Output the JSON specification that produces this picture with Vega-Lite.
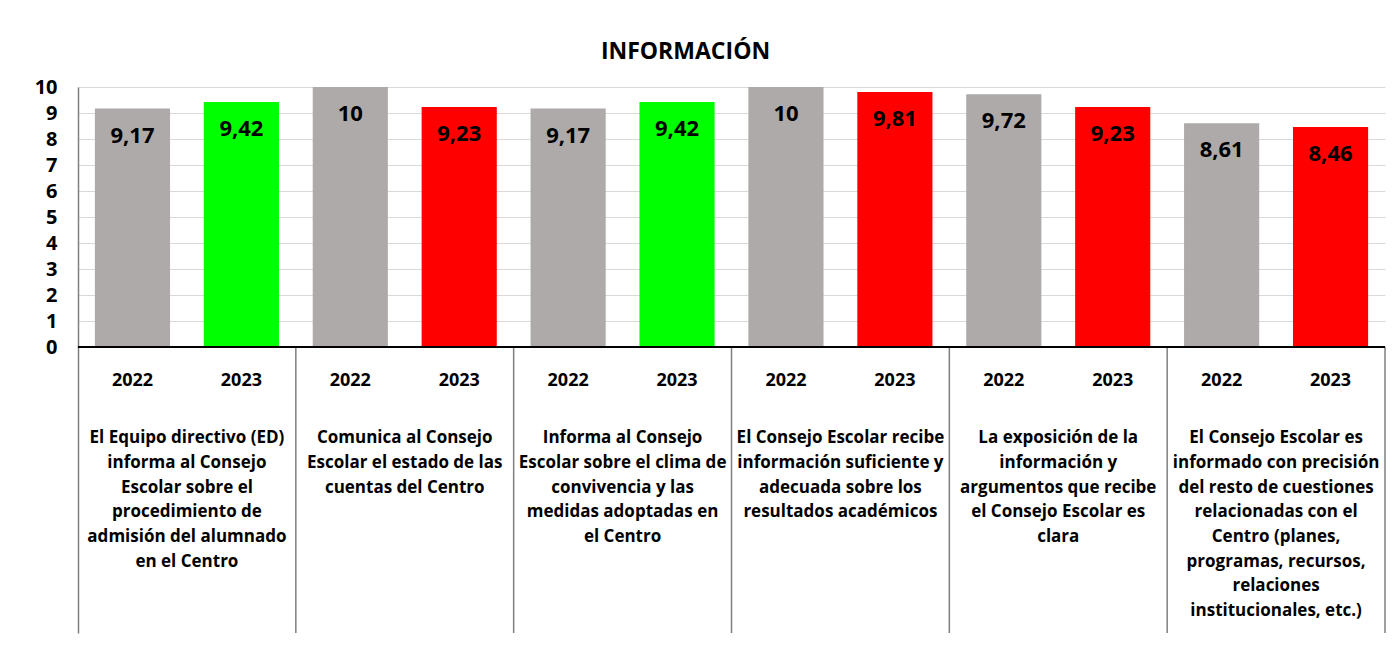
{
  "$schema": "https://vega.github.io/schema/vega-lite/v6.json",
  "autosize": {"type": "none"},
  "padding": {"left": 78, "top": 87, "right": 9, "bottom": 29},
  "width": 1307,
  "height": 546,
  "background": "white",
  "config": {
    "view": {"stroke": null},
    "font": "Open Sans",
    "locale": {"number": {"decimal": ",", "thousands": ".", "grouping": [3], "currency": ["", " €"]}}
  },
  "title": {
    "text": "INFORMACIÓN",
    "font": "Open Sans",
    "fontSize": 23,
    "fontWeight": "bold",
    "color": "#000000",
    "anchor": "middle",
    "dx": -46,
    "offset": 13
  },
  "datasets": {
    "barras": [
      {"cat": "1", "anio": "2022", "tipo": "2022", "valor": 9.17},
      {"cat": "1", "anio": "2023", "tipo": "sube", "valor": 9.42},
      {"cat": "2", "anio": "2022", "tipo": "2022", "valor": 10},
      {"cat": "2", "anio": "2023", "tipo": "baja", "valor": 9.23},
      {"cat": "3", "anio": "2022", "tipo": "2022", "valor": 9.17},
      {"cat": "3", "anio": "2023", "tipo": "sube", "valor": 9.42},
      {"cat": "4", "anio": "2022", "tipo": "2022", "valor": 10},
      {"cat": "4", "anio": "2023", "tipo": "baja", "valor": 9.81},
      {"cat": "5", "anio": "2022", "tipo": "2022", "valor": 9.72},
      {"cat": "5", "anio": "2023", "tipo": "baja", "valor": 9.23},
      {"cat": "6", "anio": "2022", "tipo": "2022", "valor": 8.61},
      {"cat": "6", "anio": "2023", "tipo": "baja", "valor": 8.46}
    ],
    "categorias": [
      {"cat": "1", "texto": "El Equipo directivo (ED)\ninforma al Consejo\nEscolar sobre el\nprocedimiento de\nadmisión del alumnado\nen el Centro"},
      {"cat": "2", "texto": "Comunica al Consejo\nEscolar el estado de las\ncuentas del Centro"},
      {"cat": "3", "texto": "Informa al Consejo\nEscolar sobre el clima de\nconvivencia y las\nmedidas adoptadas en\nel Centro"},
      {"cat": "4", "texto": "El Consejo Escolar recibe\ninformación suficiente y\nadecuada sobre los\nresultados académicos"},
      {"cat": "5", "texto": "La exposición de la\ninformación y\nargumentos que recibe\nel Consejo Escolar es\nclara"},
      {"cat": "6", "texto": "El Consejo Escolar es\ninformado con precisión\ndel resto de cuestiones\nrelacionadas con el\nCentro (planes,\nprogramas, recursos,\nrelaciones\ninstitucionales, etc.)"}
    ]
  },
  "layer": [
    {
      "data": {"name": "barras"},
      "mark": {"type": "bar"},
      "encoding": {
        "x": {"field": "cat", "type": "nominal", "axis": null, "scale": {"paddingInner": 0, "paddingOuter": 0}},
        "xOffset": {"field": "anio", "type": "nominal", "scale": {"paddingInner": 0.31, "paddingOuter": 0.155}},
        "y": {
          "field": "valor", "type": "quantitative",
          "scale": {"domain": [-11, 10], "nice": false, "zero": false},
          "axis": {
            "title": null,
            "values": [0, 1, 2, 3, 4, 5, 6, 7, 8, 9, 10],
            "ticks": false,
            "labelFontSize": 20,
            "labelFontWeight": "bold",
            "labelColor": "#000000",
            "labelPadding": 21,
            "domainColor": "#7f7f7f",
            "domainWidth": 1.5,
            "gridColor": "#d9d9d9",
            "gridWidth": 1
          }
        },
        "color": {
          "field": "tipo", "type": "nominal", "legend": null,
          "scale": {"domain": ["2022", "sube", "baja"], "range": ["#AEAAAA", "#00FF00", "#FF0000"]}
        }
      }
    },
    {
      "data": {"name": "barras"},
      "mark": {"type": "text", "baseline": "middle", "dy": 27, "fontSize": 22, "fontWeight": "bold", "color": "#000000"},
      "encoding": {
        "x": {"field": "cat", "type": "nominal"},
        "xOffset": {"field": "anio", "type": "nominal"},
        "y": {"field": "valor", "type": "quantitative"},
        "text": {"field": "valor", "type": "quantitative", "format": ".3~r"}
      }
    },
    {
      "data": {"name": "barras"},
      "mark": {"type": "text", "baseline": "middle", "fontSize": 18, "fontWeight": "bold", "color": "#000000"},
      "encoding": {
        "x": {"field": "cat", "type": "nominal"},
        "xOffset": {"field": "anio", "type": "nominal"},
        "y": {"datum": -1.3},
        "text": {"field": "anio", "type": "nominal"}
      }
    },
    {
      "data": {"name": "categorias"},
      "mark": {"type": "text", "baseline": "top", "align": "center", "fontSize": 17, "fontWeight": "bold", "color": "#000000", "lineBreak": "\n", "lineHeight": 24.7},
      "encoding": {
        "x": {"field": "cat", "type": "nominal"},
        "y": {"datum": -3.2},
        "text": {"field": "texto", "type": "nominal"}
      }
    },
    {
      "data": {"name": "categorias"},
      "mark": {"type": "rule", "color": "#7f7f7f", "strokeWidth": 1.5},
      "encoding": {
        "x": {"field": "cat", "type": "nominal", "bandPosition": 1},
        "y": {"datum": 0},
        "y2": {"datum": -11}
      }
    },
    {
      "data": {"name": "categorias"},
      "mark": {"type": "rule", "color": "#000000", "strokeWidth": 1.5},
      "encoding": {
        "y": {"datum": 0}
      }
    }
  ]
}
